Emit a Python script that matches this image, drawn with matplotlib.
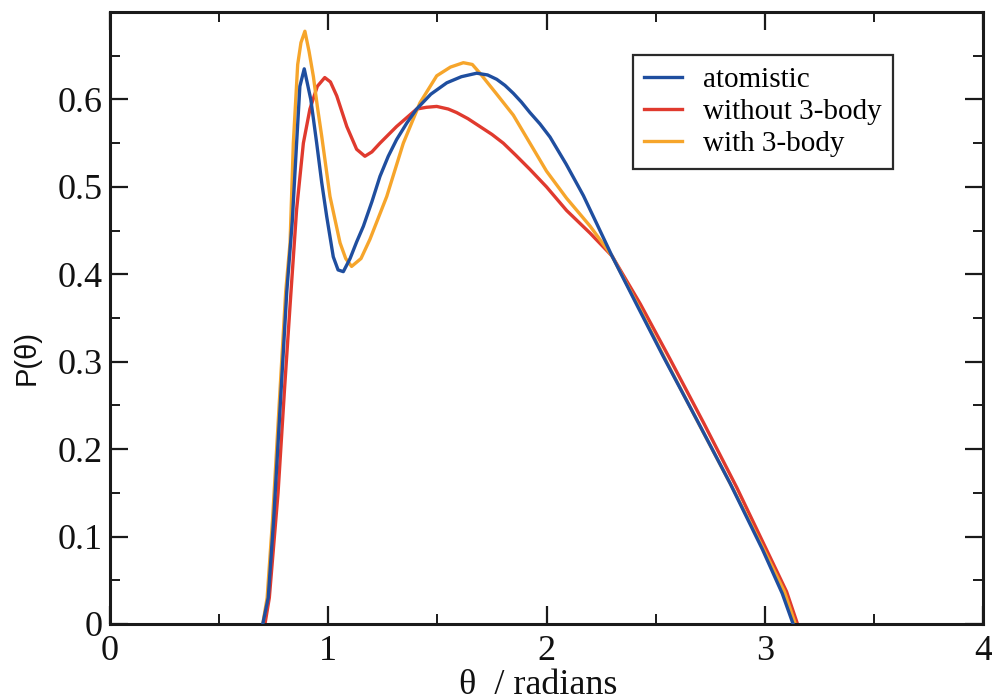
import matplotlib
matplotlib.use("Agg")
import matplotlib.pyplot as plt
from matplotlib.ticker import MultipleLocator

# ---- data ----
atom_x = [0.70, 0.725, 0.75, 0.78, 0.81, 0.835, 0.855, 0.87, 0.89, 0.92, 0.947, 0.97,
          0.993, 1.023, 1.045, 1.069, 1.10, 1.13, 1.161, 1.20, 1.237, 1.275, 1.313, 1.36,
          1.405, 1.47, 1.543, 1.61, 1.68, 1.73, 1.772, 1.81, 1.848, 1.885, 1.924, 1.97,
          2.016, 2.09, 2.169, 2.23, 2.30, 2.42, 2.535, 2.69, 2.841, 2.99, 3.08, 3.13]
atom_y = [0.0, 0.03, 0.12, 0.25, 0.38, 0.46, 0.55, 0.615, 0.635, 0.60, 0.55, 0.505,
          0.466, 0.420, 0.405, 0.403, 0.418, 0.437, 0.455, 0.483, 0.512, 0.535, 0.554, 0.573,
          0.589, 0.606, 0.619, 0.626, 0.630, 0.628, 0.623, 0.616, 0.607, 0.597, 0.585, 0.572,
          0.557, 0.526, 0.490, 0.458, 0.421, 0.362, 0.306, 0.233, 0.161, 0.085, 0.035, 0.0]

no3b_x = [0.71, 0.73, 0.77, 0.80, 0.826, 0.855, 0.886, 0.916, 0.95, 0.984, 1.01, 1.039,
          1.085, 1.13, 1.168, 1.20, 1.237, 1.313, 1.405, 1.45, 1.497, 1.55, 1.588, 1.64,
          1.695, 1.75, 1.802, 1.86, 1.924, 2.0, 2.092, 2.20, 2.30, 2.43, 2.566, 2.72,
          2.872, 3.01, 3.10, 3.15]
no3b_y = [0.0, 0.03, 0.15, 0.27, 0.368, 0.474, 0.55, 0.589, 0.615, 0.625, 0.620, 0.604,
          0.569, 0.543, 0.535, 0.540, 0.550, 0.569, 0.589, 0.591, 0.592, 0.589, 0.585, 0.578,
          0.569, 0.560, 0.550, 0.536, 0.520, 0.500, 0.473, 0.447, 0.421, 0.366, 0.303, 0.230,
          0.156, 0.084, 0.037, 0.0]

with3b_x = [0.70, 0.72, 0.745, 0.775, 0.805, 0.825, 0.84, 0.86, 0.875, 0.893, 0.912, 0.932,
            0.95, 0.970, 1.008, 1.054, 1.08, 1.107, 1.15, 1.191, 1.268, 1.344, 1.42, 1.497,
            1.56, 1.619, 1.66, 1.695, 1.772, 1.848, 1.924, 2.00, 2.092, 2.20, 2.30, 2.42,
            2.55, 2.70, 2.86, 3.00, 3.09, 3.14]
with3b_y = [0.0, 0.03, 0.12, 0.25, 0.38, 0.436, 0.55, 0.64, 0.665, 0.678, 0.655, 0.626,
            0.592, 0.558, 0.489, 0.436, 0.418, 0.409, 0.418, 0.44, 0.489, 0.550, 0.596, 0.627,
            0.637, 0.642, 0.640, 0.630, 0.606, 0.582, 0.550, 0.518, 0.487, 0.455, 0.421, 0.364,
            0.300, 0.228, 0.152, 0.083, 0.037, 0.0]

labels = ["atomistic", "without 3-body", "with 3-body"]
colors = ["#1f4e9f", "#e03a2e", "#f6a52b"]

xticks = [0, 1, 2, 3, 4]
xticklabels = ["0", "1", "2", "3", "4"]
yticks = [0, 0.1, 0.2, 0.3, 0.4, 0.5, 0.6]
yticklabels = ["0", "0.1", "0.2", "0.3", "0.4", "0.5", "0.6"]

# ---- figure ----
fig = plt.figure(figsize=(9.92, 6.96), dpi=100)
ax = fig.add_axes([110 / 992, 72 / 696, 873 / 992, 612 / 696])

serif = ["Liberation Serif", "DejaVu Serif"]

ax.plot(atom_x, atom_y, color=colors[0], lw=2.4, label=labels[0], zorder=3)
ax.plot(no3b_x, no3b_y, color=colors[1], lw=2.4, label=labels[1], zorder=2)
ax.plot(with3b_x, with3b_y, color=colors[2], lw=2.4, label=labels[2], zorder=2.5)

ax.set_xlim(0, 4)
ax.set_ylim(0, 0.7)
ax.set_xticks(xticks)
ax.set_xticklabels(xticklabels)
ax.set_yticks(yticks)
ax.set_yticklabels(yticklabels)
ax.xaxis.set_minor_locator(MultipleLocator(0.5))
ax.yaxis.set_minor_locator(MultipleLocator(0.05))

ax.tick_params(which="both", direction="in", top=True, right=True, color="#1a1a1a")
ax.tick_params(which="major", length=13, width=1.6)
ax.tick_params(which="minor", length=7, width=1.4)
ax.tick_params(axis="x", which="major", pad=8)
ax.tick_params(axis="y", which="major", pad=5)
for lab in ax.get_xticklabels() + ax.get_yticklabels():
    lab.set_family(serif)
    lab.set_fontsize(26)
    lab.set_color("#111111")

for sp in ax.spines.values():
    sp.set_linewidth(2.2)
    sp.set_color("#1a1a1a")

ax.set_xlabel("θ  / radians", family=serif, fontsize=26, color="#111111")
ax.xaxis.set_label_coords(0.49, -0.073)
ax.set_ylabel("P(θ)", family=["Liberation Sans", "DejaVu Sans"], fontsize=21, color="#111111")
ax.yaxis.set_label_coords(-0.08, 0.435)

leg = ax.legend(loc="upper right", bbox_to_anchor=(0.897, 0.93), borderaxespad=0,
                prop={"family": serif, "size": 21}, handlelength=1.3, handletextpad=0.7,
                labelspacing=0.2, borderpad=0.4, fancybox=False, framealpha=1)
leg.get_frame().set_edgecolor("#2a2a2a")
leg.get_frame().set_linewidth(1.6)
for line in leg.get_lines():
    line.set_linewidth(2.4)

fig.savefig("out.png", dpi=100)
